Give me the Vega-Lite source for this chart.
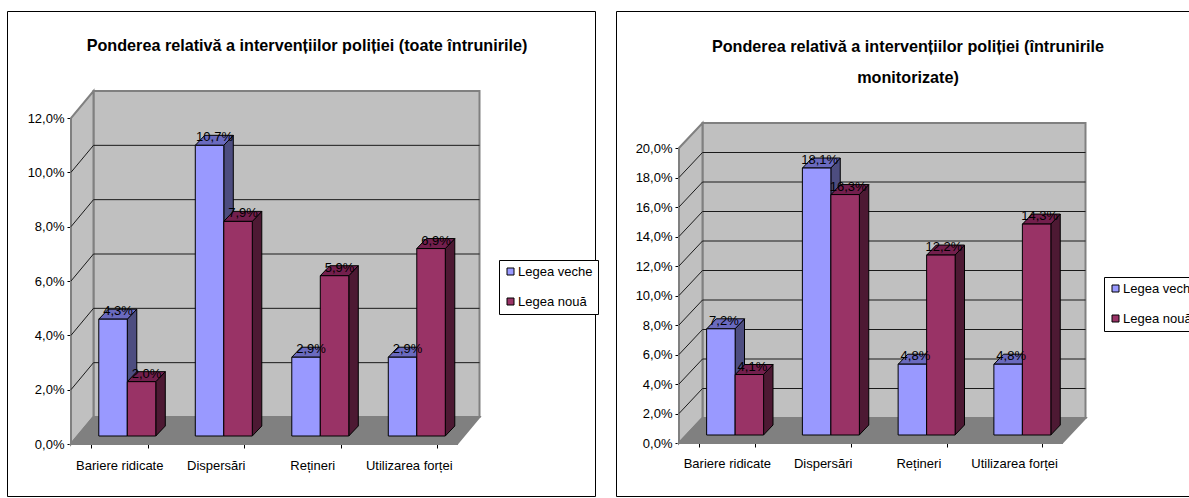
{"$schema":"https://vega.github.io/schema/vega-lite/v6.json","background":"white","padding":{"left":6,"top":10,"right":0,"bottom":0},"spacing":16,"resolve":{"scale":{"fill":"independent"},"legend":{"fill":"independent"}},"config":{"view":{"stroke":"#000000","strokeWidth":1},"font":"Liberation Sans","axis":{"labelFont":"Liberation Sans","labelFontSize":13,"labelColor":"#000","domainColor":"#000","tickColor":"#000","tickSize":4,"grid":false,"title":null},"legend":{"labelFont":"Liberation Sans","labelFontSize":13,"labelColor":"#000"},"title":{"font":"Liberation Sans","fontSize":16.2,"fontWeight":"bold","color":"#000","lineHeight":31}},"hconcat":[{"width":588,"height":485,"title":{"text":"Ponderea relativă a intervențiilor poliției (toate întrunirile)","anchor":"start","align":"center","dx":300,"offset":-43},"data":{"values":[{"category":"Bariere ridicate","series":"Legea veche","value":4.3,"label":"4,3%"},{"category":"Bariere ridicate","series":"Legea nouă","value":2.0,"label":"2,0%"},{"category":"Dispersări","series":"Legea veche","value":10.7,"label":"10,7%"},{"category":"Dispersări","series":"Legea nouă","value":7.9,"label":"7,9%"},{"category":"Rețineri","series":"Legea veche","value":2.9,"label":"2,9%"},{"category":"Rețineri","series":"Legea nouă","value":5.9,"label":"5,9%"},{"category":"Utilizarea forței","series":"Legea veche","value":2.9,"label":"2,9%"},{"category":"Utilizarea forței","series":"Legea nouă","value":6.9,"label":"6,9%"}]},"encoding":{"x":{"field":"category","type":"nominal","sort":null,"title":null,"scale":{"domain":["Bariere ridicate","Dispersări","Rețineri","Utilizarea forței"],"range":[64,450],"paddingInner":0.41,"paddingOuter":0.205},"axis":{"orient":"bottom","offset":-52,"tickBand":"extent","labelPadding":11,"labelAngle":0}},"y":{"field":"value","type":"quantitative","title":null,"scale":{"domain":[0,12],"range":[433,107],"nice":false},"axis":{"orient":"left","offset":-64,"values":[0,2,4,6,8,10,12],"labelExpr":"replace(format(datum.value,'.1f'),'.',',')+'%'","labelPadding":3,"grid":false}},"xOffset":{"field":"series","type":"nominal","scale":{"domain":["Legea veche","Legea nouă"],"range":[8,65]}}},"layer":[{"data":{"values":[{"category":"Bariere ridicate","value":0}]},"mark":{"type":"point","filled":true,"opacity":1,"size":4,"shape":"M-25.75,-27 L-25.75,-353 L360.25,-353 L360.25,-27 Z"},"encoding":{"xOffset":null,"fill":{"value":"#c0c0c0"},"stroke":{"value":"#808080"}}},{"data":{"values":[{"category":"Bariere ridicate","value":0}]},"mark":{"type":"point","filled":true,"opacity":1,"size":4,"shape":"M-48.25,0 L-48.25,-326 L-25.75,-353 L-25.75,-27 Z"},"encoding":{"xOffset":null,"fill":{"value":"#c0c0c0"},"stroke":{"value":"#808080"}}},{"data":{"values":[{"category":"Bariere ridicate","value":0}]},"mark":{"type":"point","filled":true,"opacity":1,"size":4,"shape":"M-48.25,0 L337.75,0 L360.25,-27 L-25.75,-27 Z"},"encoding":{"xOffset":null,"fill":{"value":"#808080"},"stroke":{"value":"#808080"}}},{"data":{"values":[{"category":"Bariere ridicate","value":2},{"category":"Bariere ridicate","value":4},{"category":"Bariere ridicate","value":6},{"category":"Bariere ridicate","value":8},{"category":"Bariere ridicate","value":10}]},"mark":{"type":"point","filled":false,"opacity":1,"size":4,"strokeWidth":1,"fill":"transparent","shape":"M-48.25,0 L-25.75,-27 L360.25,-27"},"encoding":{"xOffset":null,"stroke":{"value":"#1a1a1a"}}},{"mark":{"type":"point","filled":true,"opacity":1,"size":4,"strokeWidth":1,"shape":{"expr":"'M14.25,-8 L23.75,-18 L23.75,'+(datum.value*27.167-18)+' L14.25,'+(datum.value*27.167-8)+' Z'"}},"encoding":{"stroke":{"value":"#000"},"fill":{"condition":{"test":"datum.series==='Legea veche'","value":"#4d4d80"},"value":"#4d1933"}}},{"mark":{"type":"point","filled":true,"opacity":1,"size":4,"strokeWidth":1,"shape":"M-14.25,-8 L14.25,-8 L23.75,-18 L-4.75,-18 Z"},"encoding":{"stroke":{"value":"#000"},"fill":{"condition":{"test":"datum.series==='Legea veche'","value":"#6a6abf"},"value":"#731f4d"}}},{"mark":{"type":"bar","stroke":"#000","strokeWidth":1,"yOffset":-8,"y2Offset":-8},"encoding":{"fill":{"field":"series","type":"nominal","scale":{"domain":["Legea veche","Legea nouă"],"range":["#9999ff","#993366"]},"legend":{"orient":"none","legendX":492,"legendY":249,"title":null,"symbolType":"square","symbolSize":49,"symbolStrokeColor":"#000","symbolStrokeWidth":1,"fillColor":"#ffffff","strokeColor":"#000","padding":5,"rowPadding":16,"labelOffset":1}}}},{"mark":{"type":"text","align":"center","baseline":"alphabetic","font":"Liberation Sans","fontSize":13,"dx":5,"dy":-12,"color":"#000"},"encoding":{"text":{"field":"label","type":"nominal"}}}]},{"width":600,"height":485,"title":{"text":["Ponderea relativă a intervențiilor poliției (întrunirile","monitorizate)"],"anchor":"start","align":"center","dx":292,"offset":-75},"data":{"values":[{"category":"Bariere ridicate","series":"Legea veche","value":7.2,"label":"7,2%"},{"category":"Bariere ridicate","series":"Legea nouă","value":4.1,"label":"4,1%"},{"category":"Dispersări","series":"Legea veche","value":18.1,"label":"18,1%"},{"category":"Dispersări","series":"Legea nouă","value":16.3,"label":"16,3%"},{"category":"Rețineri","series":"Legea veche","value":4.8,"label":"4,8%"},{"category":"Rețineri","series":"Legea nouă","value":12.2,"label":"12,2%"},{"category":"Utilizarea forței","series":"Legea veche","value":4.8,"label":"4,8%"},{"category":"Utilizarea forței","series":"Legea nouă","value":14.3,"label":"14,3%"}]},"encoding":{"x":{"field":"category","type":"nominal","sort":null,"title":null,"scale":{"domain":["Bariere ridicate","Dispersări","Rețineri","Utilizarea forței"],"range":[63,446],"paddingInner":0.41,"paddingOuter":0.205},"axis":{"orient":"bottom","offset":-53,"tickBand":"extent","labelPadding":10,"labelAngle":0}},"y":{"field":"value","type":"quantitative","title":null,"scale":{"domain":[0,20],"range":[432,137],"nice":false},"axis":{"orient":"left","offset":-63,"values":[0,2,4,6,8,10,12,14,16,18,20],"labelExpr":"replace(format(datum.value,'.1f'),'.',',')+'%'","labelPadding":3,"grid":false}},"xOffset":{"field":"series","type":"nominal","scale":{"domain":["Legea veche","Legea nouă"],"range":[11,67.5]}}},"layer":[{"data":{"values":[{"category":"Bariere ridicate","value":0}]},"mark":{"type":"point","filled":true,"opacity":1,"size":4,"shape":"M-24.375,-25 L-24.375,-320 L358.625,-320 L358.625,-25 Z"},"encoding":{"xOffset":null,"fill":{"value":"#c0c0c0"},"stroke":{"value":"#808080"}}},{"data":{"values":[{"category":"Bariere ridicate","value":0}]},"mark":{"type":"point","filled":true,"opacity":1,"size":4,"shape":"M-47.875,0 L-47.875,-295 L-24.375,-320 L-24.375,-25 Z"},"encoding":{"xOffset":null,"fill":{"value":"#c0c0c0"},"stroke":{"value":"#808080"}}},{"data":{"values":[{"category":"Bariere ridicate","value":0}]},"mark":{"type":"point","filled":true,"opacity":1,"size":4,"shape":"M-47.875,0 L335.125,0 L358.625,-25 L-24.375,-25 Z"},"encoding":{"xOffset":null,"fill":{"value":"#808080"},"stroke":{"value":"#808080"}}},{"data":{"values":[{"category":"Bariere ridicate","value":2},{"category":"Bariere ridicate","value":4},{"category":"Bariere ridicate","value":6},{"category":"Bariere ridicate","value":8},{"category":"Bariere ridicate","value":10},{"category":"Bariere ridicate","value":12},{"category":"Bariere ridicate","value":14},{"category":"Bariere ridicate","value":16},{"category":"Bariere ridicate","value":18}]},"mark":{"type":"point","filled":false,"opacity":1,"size":4,"strokeWidth":1,"fill":"transparent","shape":"M-47.875,0 L-24.375,-25 L358.625,-25"},"encoding":{"xOffset":null,"stroke":{"value":"#1a1a1a"}}},{"mark":{"type":"point","filled":true,"opacity":1,"size":4,"strokeWidth":1,"shape":{"expr":"'M14.125,-8 L23.625,-18 L23.625,'+(datum.value*14.75-18)+' L14.125,'+(datum.value*14.75-8)+' Z'"}},"encoding":{"stroke":{"value":"#000"},"fill":{"condition":{"test":"datum.series==='Legea veche'","value":"#4d4d80"},"value":"#4d1933"}}},{"mark":{"type":"point","filled":true,"opacity":1,"size":4,"strokeWidth":1,"shape":"M-14.125,-8 L14.125,-8 L23.625,-18 L-4.625,-18 Z"},"encoding":{"stroke":{"value":"#000"},"fill":{"condition":{"test":"datum.series==='Legea veche'","value":"#6a6abf"},"value":"#731f4d"}}},{"mark":{"type":"bar","stroke":"#000","strokeWidth":1,"yOffset":-8,"y2Offset":-8},"encoding":{"fill":{"field":"series","type":"nominal","scale":{"domain":["Legea veche","Legea nouă"],"range":["#9999ff","#993366"]},"legend":{"orient":"none","legendX":488,"legendY":266,"title":null,"symbolType":"square","symbolSize":49,"symbolStrokeColor":"#000","symbolStrokeWidth":1,"fillColor":"#ffffff","strokeColor":"#000","padding":5,"rowPadding":16,"labelOffset":1}}}},{"mark":{"type":"text","align":"center","baseline":"alphabetic","font":"Liberation Sans","fontSize":13,"dx":3,"dy":-12,"color":"#000"},"encoding":{"text":{"field":"label","type":"nominal"}}}]}]}
